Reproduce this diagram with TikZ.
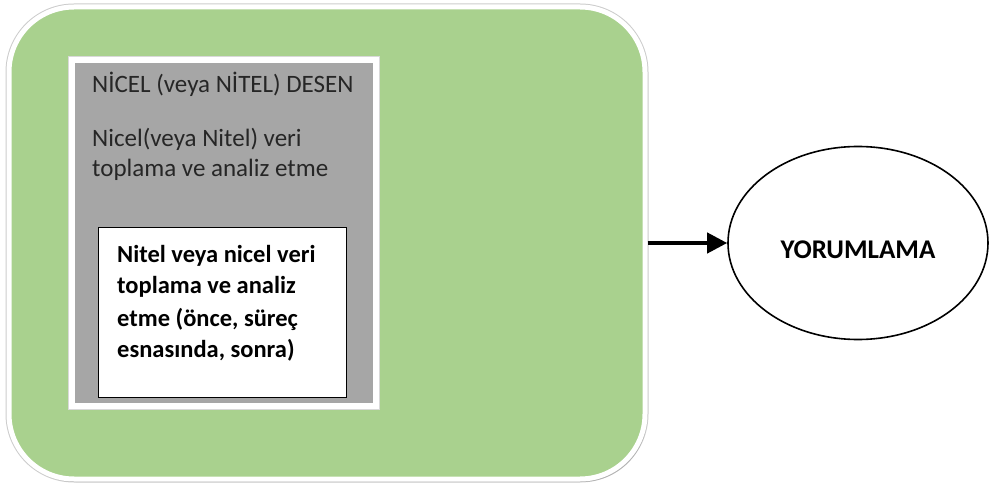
\documentclass[tikz,border=0pt]{standalone}
\usepackage{fontspec}
\setmainfont{Carlito}
\usetikzlibrary{shapes.geometric,arrows.meta,shadows}
\definecolor{yesil}{HTML}{A9D18E}
\definecolor{gri}{HTML}{A6A6A6}
\begin{document}
\begin{tikzpicture}[x=1pt,y=-1pt,
    dis/.style={draw=white,line width=5pt,fill=yesil,rounded corners=65pt,
        preaction={draw=black!20,line width=7pt},
        drop shadow={shadow xshift=2pt,shadow yshift=-3pt,opacity=.35}},
    orta/.style={draw=white,line width=6pt,fill=gri,
        preaction={draw=black!15,line width=7.5pt},
        drop shadow={shadow xshift=1pt,shadow yshift=-3pt,opacity=.4}},
    ic/.style={draw=black,line width=.8pt,fill=white},
    yazi/.style={font=\fontsize{25}{30}\selectfont,align=left,inner sep=0pt,text=black!85},
    kalin/.style={font=\bfseries\fontsize{24.5}{32}\selectfont,align=left,inner sep=0pt}]
    \useasboundingbox (0,0) rectangle (989,489);
    \node[dis,minimum width=636pt,minimum height=472pt] (D) at (327,243){};
    \node[orta,minimum width=304pt,minimum height=346pt] (G) at (224,233){};
    \node[ic,minimum width=248pt,minimum height=170pt] (B) at (222,312){};
    % base = last line
    \node[yazi,anchor=base west] (T) at (92,93){NİCEL (veya NİTEL) DESEN};
    \node[yazi,anchor=base west] (N) at (92,177){Nicel(veya Nitel) veri\\toplama ve analiz etme};
    \node[kalin,anchor=base west] (K) at (117,358){Nitel veya nicel veri\\toplama ve analiz\\etme (önce, süreç\\esnasında, sonra)};
    \node[draw,ellipse,line width=1.6pt,minimum width=260pt,minimum height=193pt,
        text height=32pt,text depth=0pt,
        font=\bfseries\fontsize{27}{30}\selectfont] (Y) at (858,243){YORUMLAMA};
    \draw[-{Triangle[length=20pt,width=20pt]},line width=4pt] (D) to (Y);
\end{tikzpicture}
\end{document}
